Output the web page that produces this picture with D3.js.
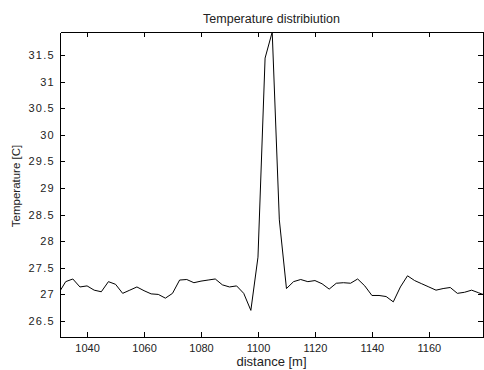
<!DOCTYPE html>
<html>
<head>
<meta charset="utf-8">
<script src="https://cdn.jsdelivr.net/npm/d3@7"></script>
<style>
  html, body { margin: 0; padding: 0; background: #fff; }
  svg { display: block; }
  text { font-family: "Liberation Sans", Arial, Helvetica, sans-serif; fill: #222; }
</style>
</head>
<body>
<svg id="chart" width="484" height="370"></svg>
<script>
// ---- data ----
const distance = [1030, 1032.5, 1035, 1037.5, 1040, 1042.5, 1045, 1047.5, 1050, 1052.5,
  1055, 1057.5, 1060, 1062.5, 1065, 1067.5, 1070, 1072.5, 1075, 1077.5,
  1080, 1082.5, 1085, 1087.5, 1090, 1092.5, 1095, 1097.5, 1100, 1102.5,
  1105, 1107.5, 1110, 1112.5, 1115, 1117.5, 1120, 1122.5, 1125, 1127.5,
  1130, 1132.5, 1135, 1137.5, 1140, 1142.5, 1145, 1147.5, 1150, 1152.5,
  1155, 1157.5, 1160, 1162.5, 1165, 1167.5, 1170, 1172.5, 1175, 1177.5, 1180];
const temperature = [27.02, 27.24, 27.29, 27.14, 27.16, 27.08, 27.05, 27.24, 27.19, 27.02,
  27.08, 27.14, 27.07, 27.01, 27.00, 26.93, 27.02, 27.27, 27.28, 27.22,
  27.25, 27.27, 27.29, 27.18, 27.14, 27.16, 27.02, 26.70, 27.70, 31.44,
  31.93, 28.40, 27.11, 27.24, 27.28, 27.24, 27.26, 27.20, 27.10, 27.21,
  27.22, 27.21, 27.29, 27.16, 26.98, 26.98, 26.96, 26.86, 27.14, 27.35,
  27.26, 27.20, 27.14, 27.08, 27.11, 27.13, 27.02, 27.04, 27.08, 27.03, 26.98];
const xTicks = [1040, 1060, 1080, 1100, 1120, 1140, 1160];
const yTicks = [26.5, 27, 27.5, 28, 28.5, 29, 29.5, 30, 30.5, 31, 31.5];
const titleText = "Temperature distribiution";
const xLabel = "distance [m]";
const yLabel = "Temperature [C]";

// ---- layout ----
const L = 60, R = 483, T = 32, B = 337;
const svg = d3.select("#chart");

const x = d3.scaleLinear().domain([1030.5, 1179]).range([L, R]);
const y = d3.scaleLinear().domain([26.2, 31.93]).range([B, T]);

svg.append("defs").append("clipPath").attr("id", "clip")
  .append("rect").attr("x", L).attr("y", T - 1).attr("width", R - L).attr("height", B - T + 2);

// line
const line = d3.line().x((d, i) => x(distance[i])).y(d => y(d));
svg.append("path")
  .datum(temperature)
  .attr("clip-path", "url(#clip)")
  .attr("fill", "none")
  .attr("stroke", "#000")
  .attr("stroke-width", 1)
  .attr("d", line);

// axes (ticks inward, box)
const axB = svg.append("g").attr("transform", `translate(0,${B})`)
  .call(d3.axisBottom(x).tickValues(xTicks).tickSizeInner(-5).tickSizeOuter(0).tickPadding(7).tickFormat(d3.format("d")));
const axT = svg.append("g").attr("transform", `translate(0,${T})`)
  .call(d3.axisTop(x).tickValues(xTicks).tickSizeInner(-5).tickSizeOuter(0).tickFormat(""));
const axL = svg.append("g").attr("transform", `translate(${L},0)`)
  .call(d3.axisLeft(y).tickValues(yTicks).tickSizeInner(-5).tickSizeOuter(0).tickPadding(5).tickFormat(d => String(d)));
const axR = svg.append("g").attr("transform", `translate(${R},0)`)
  .call(d3.axisRight(y).tickValues(yTicks).tickSizeInner(-5).tickSizeOuter(0).tickFormat(""));

[axB, axT, axL, axR].forEach(g => {
  g.selectAll(".domain").attr("stroke", "#000").attr("shape-rendering", "crispEdges");
  g.selectAll(".tick line").attr("stroke", "#000").attr("shape-rendering", "crispEdges");
  g.selectAll("text").attr("font-family", "Liberation Sans, Arial, sans-serif").attr("font-size", 11).attr("fill", "#222");
});
axL.selectAll("text").attr("letter-spacing", "1.3px");

// title and labels
svg.append("text").attr("x", (L + R) / 2).attr("y", 22.5).attr("text-anchor", "middle")
  .attr("font-size", 12.5).text(titleText);
svg.append("text").attr("x", (L + R) / 2).attr("y", 366).attr("text-anchor", "middle")
  .attr("font-size", 13).text(xLabel);
svg.append("text").attr("transform", `translate(20,186) rotate(-90)`)
  .attr("text-anchor", "middle").attr("font-size", 11.5).text(yLabel);
</script>
</body>
</html>
